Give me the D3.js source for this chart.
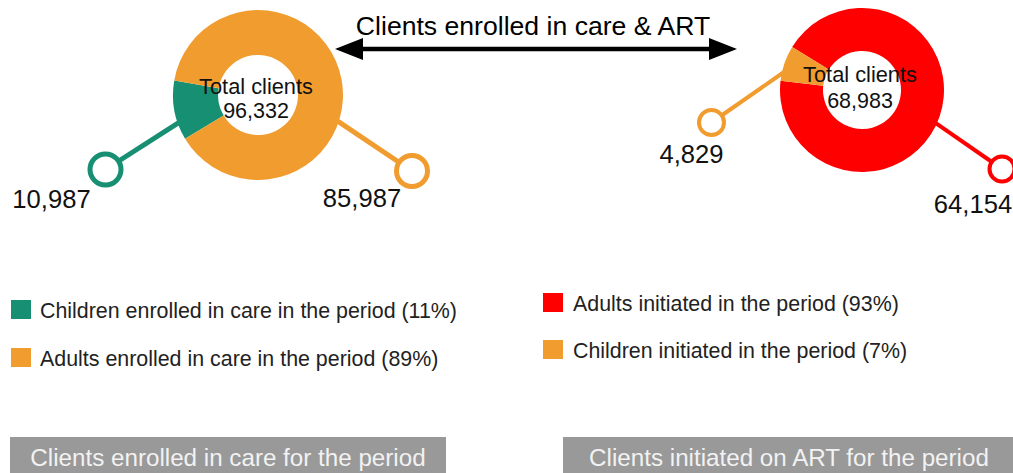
<!DOCTYPE html>
<html><head><meta charset="utf-8">
<script src="https://cdn.jsdelivr.net/npm/d3@7"></script>
<style>
body{margin:0;background:#fff;}
svg{display:block;font-family:"Liberation Sans",Arial,Helvetica,sans-serif;}
</style>
</head><body>
<svg id="chart" width="1013" height="473"></svg>
<script>
// ---- data ----
const title = "Clients enrolled in care & ART";
const centerLabel = "Total clients";

const careCategories = ["Children enrolled in care in the period", "Adults enrolled in care in the period"];
const careValues = [10987, 85987];
const careColors = ["#168f73", "#f19c2f"];
const careTotal = 96332;
const careCaption = "Clients enrolled in care for the period";

const artCategories = ["Adults initiated in the period", "Children initiated in the period"];
const artValues = [64154, 4829];
const artColors = ["#ff0000", "#f19c2f"];
const artTotal = 68983;
const artCaption = "Clients initiated on ART for the period";

// ---- layout ----
const deg = Math.PI / 180;
const panels = [
  {cats: careCategories, vals: careValues, colors: careColors, total: careTotal, caption: careCaption,
   cx: 258, cy: 95, rOuter: 85, rInner: 40, smallIdx: 0, smallCenter: 259.5, textDy: [-1, 23],
   ring: {r: 15.5, sw: 5},
   callouts: [{anchor: 251, dx: -152.5, dy: 74.5, ldx: -54, ldy: 38},
              {anchor: 108, dx: 154, dy: 76, ldx: -50, ldy: 36}],
   legend: {x: 11, y: 300, step: 48, tx: 29},
   cap: {x: 10, w: 436, tx: 228}},
  {cats: artCategories, vals: artValues, colors: artColors, total: artTotal, caption: artCaption,
   cx: 862, cy: 90, rOuter: 82, rInner: 39, smallIdx: 1, smallCenter: 289, textDy: [-8, 18],
   ring: {r: 12.5, sw: 4},
   callouts: [{anchor: 114, dx: 140, dy: 79, ldx: -29, ldy: 44},
              {anchor: 283, dx: -150.5, dy: 32.5, ldx: -20, ldy: 40.5}],
   legend: {x: 543, y: 293, step: 47, tx: 30},
   cap: {x: 563, w: 460, tx: 789}}
];

const svg = d3.select("#chart");
const fmt = d3.format(",");

// title + double arrow
svg.append("text").attr("x", 533).attr("y", 35).attr("text-anchor", "middle")
  .attr("font-size", 26.6).attr("fill", "#000").text(title);
svg.append("line").attr("x1", 360).attr("x2", 712).attr("y1", 49).attr("y2", 49)
  .attr("stroke", "#000").attr("stroke-width", 4.5);
svg.append("path").attr("d", "M335,49L363,38L363,60Z").attr("fill", "#000");
svg.append("path").attr("d", "M737,49L709,38L709,60Z").attr("fill", "#000");

panels.forEach(p => {
  const sum = d3.sum(p.vals);
  const angles = p.vals.map(v => v / sum * 2 * Math.PI);
  const before = d3.sum(angles.slice(0, p.smallIdx));
  const start = p.smallCenter * deg - before - angles[p.smallIdx] / 2;
  const pie = d3.pie().sort(null).startAngle(start).endAngle(start + 2 * Math.PI);
  const arcs = pie(p.vals);
  const arc = d3.arc().innerRadius(p.rInner).outerRadius(p.rOuter);
  const g = svg.append("g").attr("transform", `translate(${p.cx},${p.cy})`);

  // callout lines
  p.callouts.forEach((c, i) => {
    const a = c.anchor * deg;
    const ax = Math.sin(a) * (p.rOuter - 2), ay = -Math.cos(a) * (p.rOuter - 2);
    g.append("line").attr("x1", ax).attr("y1", ay).attr("x2", c.dx).attr("y2", c.dy)
      .attr("stroke", p.colors[i]).attr("stroke-width", p.ring.sw);
  });

  g.selectAll("path.slice").data(arcs).join("path").attr("class", "slice")
    .attr("d", arc).attr("fill", (d, i) => p.colors[i]);

  p.callouts.forEach((c, i) => {
    g.append("circle").attr("cx", c.dx).attr("cy", c.dy).attr("r", p.ring.r)
      .attr("fill", "#fff").attr("stroke", p.colors[i]).attr("stroke-width", p.ring.sw);
    g.append("text").attr("x", c.dx + c.ldx).attr("y", c.dy + c.ldy).attr("text-anchor", "middle")
      .attr("font-size", 25.6).attr("fill", "#111").text(fmt(p.vals[i]));
  });

  g.append("text").attr("x", -2).attr("y", p.textDy[0]).attr("text-anchor", "middle")
    .attr("font-size", 21.8).attr("fill", "#111").text(centerLabel);
  g.append("text").attr("x", -2).attr("y", p.textDy[1]).attr("text-anchor", "middle")
    .attr("font-size", 21.5).attr("fill", "#111").text(fmt(p.total));

  // legend
  p.cats.forEach((cat, i) => {
    const y = p.legend.y + i * p.legend.step;
    svg.append("rect").attr("x", p.legend.x).attr("y", y).attr("width", 20).attr("height", 19)
      .attr("fill", p.colors[i]);
    svg.append("text").attr("x", p.legend.x + p.legend.tx).attr("y", y + 18)
      .attr("font-size", 21.4).attr("fill", "#222")
      .text(`${cat} (${Math.round(p.vals[i] / sum * 100)}%)`);
  });

  // caption button
  svg.append("rect").attr("x", p.cap.x).attr("y", 437).attr("width", p.cap.w).attr("height", 40)
    .attr("fill", "#999");
  svg.append("text").attr("x", p.cap.tx).attr("y", 466).attr("text-anchor", "middle")
    .attr("font-size", 24.2).attr("fill", "#f2f2f2").text(p.caption);
});
</script>
</body></html>
